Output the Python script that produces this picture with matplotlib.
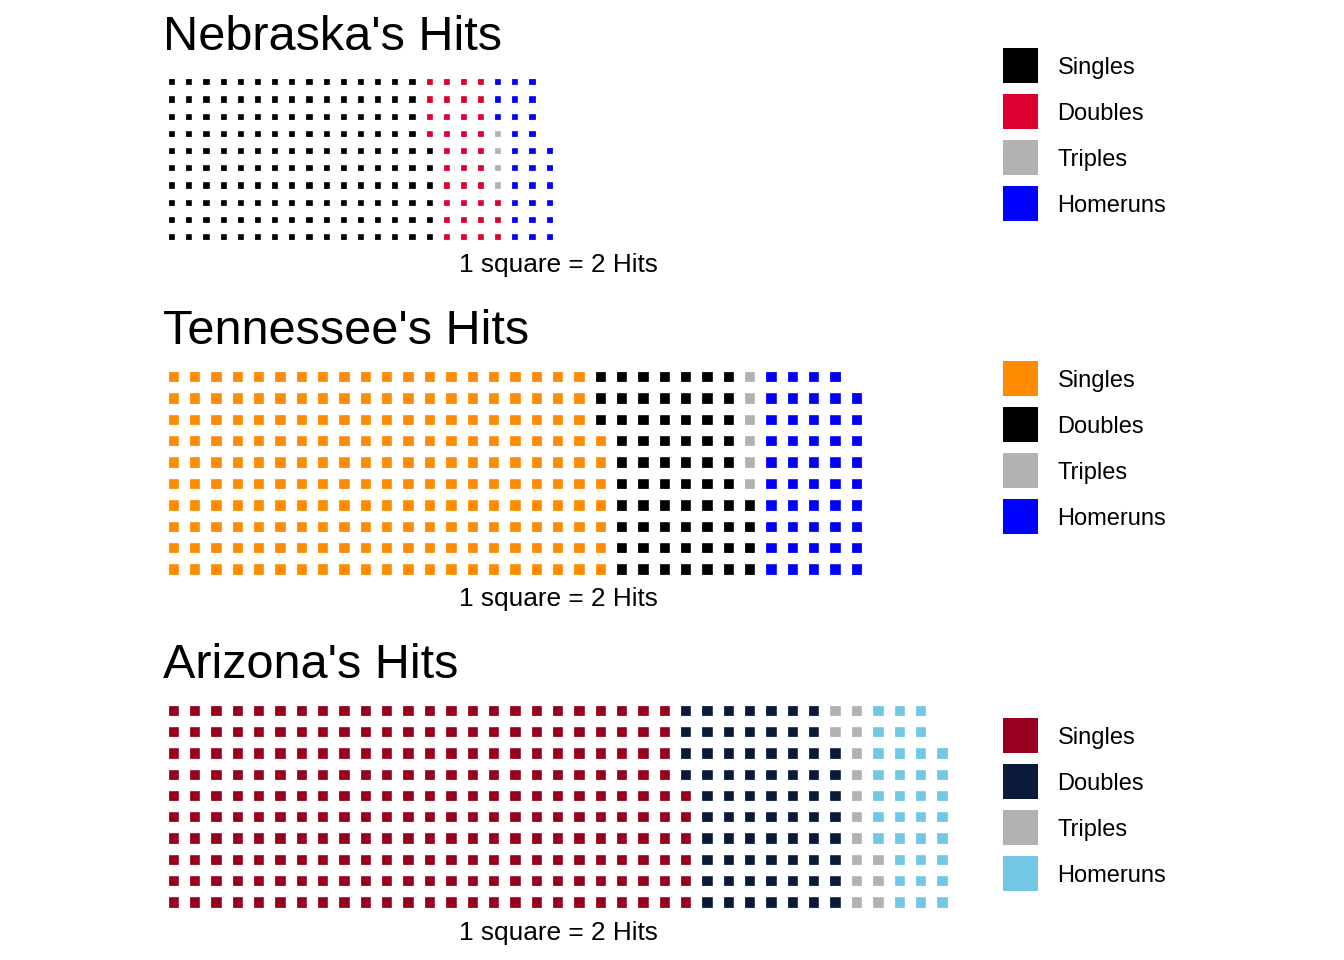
import math
import matplotlib.pyplot as plt
from matplotlib.patches import Rectangle

plt.rcParams['font.family'] = ['Liberation Sans', 'DejaVu Sans']

# squares per category (1 square = 2 hits)
categories = ['Singles', 'Doubles', 'Triples', 'Homeruns']
teams = ["Nebraska's Hits", "Tennessee's Hits", "Arizona's Hits"]
nebraska_squares = [156, 37, 4, 29]
tennessee_squares = [207, 67, 6, 49]
arizona_squares = [246, 72, 15, 35]
nebraska_colors = ['#000000', '#DC0030', '#B2B2B2', '#0000FF']
tennessee_colors = ['#FF8C00', '#000000', '#B2B2B2', '#0000FF']
arizona_colors = ['#990020', '#0C1A3A', '#B2B2B2', '#72C8E4']
caption = '1 square = 2 Hits'

W, H, DPI = 1344, 960, 100
fig = plt.figure(figsize=(W / DPI, H / DPI), dpi=DPI)

# overlay axes in pixel coordinates for titles, captions and legends
over = fig.add_axes([0, 0, 1, 1])
over.set_xlim(0, W)
over.set_ylim(H, 0)
over.axis('off')

# waffle boxes in pixels: left, top, right, bottom
boxes = [(163.1, 73.1, 557.8, 245.3),
         (162.6, 366.0, 867.2, 579.7),
         (162.6, 699.6, 952.6, 912.7)]
title_y = [49.5, 343.5, 677.5]
caption_y = [272, 606, 940]
legend_y = [65.5, 378.5, 735.5]

gap_px = 11.2
rows = 10

all_squares = [nebraska_squares, tennessee_squares, arizona_squares]
all_colors = [nebraska_colors, tennessee_colors, arizona_colors]

for k in range(3):
    squares = all_squares[k]
    colors = all_colors[k]
    l, t, r, b = boxes[k]
    ax = fig.add_axes([l / W, 1 - b / H, (r - l) / W, (b - t) / H])
    ncols = math.ceil(sum(squares) / rows)
    ax.set_xlim(0, ncols)
    ax.set_ylim(0, rows)
    ax.axis('off')

    # fill column by column, bottom to top
    i = 0
    for n, c in zip(squares, colors):
        for _ in range(n):
            col, row = i // rows, i % rows
            ax.add_patch(Rectangle((col, row), 1, 1, facecolor=c,
                                   edgecolor='white', linewidth=gap_px * 72 / DPI))
            i += 1

    over.text(163.0, title_y[k], teams[k], fontsize=35, ha='left', va='baseline')
    over.text(558.5, caption_y[k], caption, fontsize=18.9, ha='center', va='baseline')

    for j, (name, c) in enumerate(zip(categories, colors)):
        yc = legend_y[k] + 46 * j
        over.add_patch(Rectangle((1003.3, yc - 17.2), 34.4, 34.4, facecolor=c, edgecolor='none'))
        over.text(1057.5, yc + 8.5, name, fontsize=17, ha='left', va='baseline')

fig.savefig('out.png', dpi=DPI, facecolor='white')
